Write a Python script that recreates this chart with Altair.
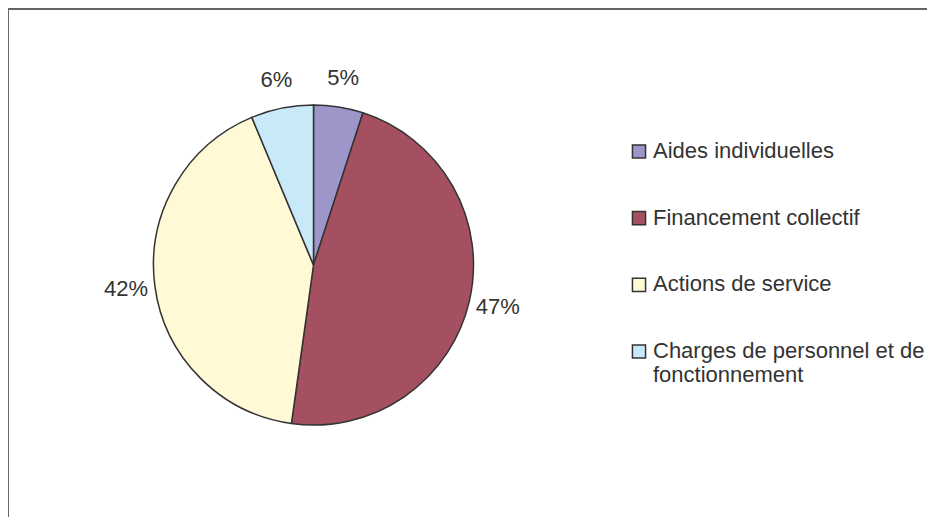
import altair as alt
import pandas as pd

categories = ["Aides individuelles", "Financement collectif", "Actions de service",
              "Charges de personnel et de fonctionnement"]
values = [5.0, 47.2, 41.5, 6.3]
labels = ["5%", "47%", "42%", "6%"]
colors = ["#9d96c8", "#a55060", "#fff9d6", "#c8e9f8"]

df = pd.DataFrame({"cat": categories, "val": values, "lab": labels,
                   "idx": list(range(len(categories)))})

W, H = 919, 509
CX, CY = 305.5, 257
R = 160
FONT = "Liberation Sans"

base = alt.Chart(df).encode(
    theta=alt.Theta("val:Q", stack=True),
    order=alt.Order("idx:Q"),
)

pie = base.mark_arc(outerRadius=R, stroke="#333333", strokeWidth=1.5).encode(
    x=alt.value(CX), y=alt.value(CY),
    color=alt.Color(
        "cat:N",
        scale=alt.Scale(domain=categories, range=colors),
        sort=categories,
        legend=alt.Legend(
            title=None, orient="none", legendX=620, legendY=139,
            symbolType="M-1,-2H1V0H-1Z", symbolSize=172,
            symbolStrokeColor="#333333", symbolStrokeWidth=1.5,
            symbolOpacity=1,
            labelFont=FONT, labelFontSize=22, labelColor="#333333",
            labelBaseline="alphabetic", labelOffset=3, labelLimit=400,
            rowPadding=44.7, padding=0,
            labelExpr="datum.label == 'Charges de personnel et de fonctionnement' ? ['Charges de personnel et de', 'fonctionnement'] : datum.label",
        ),
    ),
)

text = base.mark_text(radius=189, font=FONT, fontSize=22, color="#333333",
                      align="center", baseline="middle").encode(
    x=alt.value(CX), y=alt.value(CY), text="lab:N"
)

frame_df = pd.DataFrame({"k": [0]})
top_rule = alt.Chart(frame_df).mark_rule(color="#666666", strokeWidth=2).encode(
    x=alt.value(0), x2=alt.value(W), y=alt.value(1)
)
left_rule = alt.Chart(frame_df).mark_rule(color="#666666", strokeWidth=2).encode(
    x=alt.value(0), y=alt.value(0), y2=alt.value(H)
)

chart = alt.layer(pie, text, top_rule, left_rule).properties(
    width=W, height=H, padding=0, autosize=alt.AutoSizeParams(type="none"),
    background="white",
).configure_view(stroke=None)

chart.save("out.html", embed_options={"renderer": "svg", "actions": False})
